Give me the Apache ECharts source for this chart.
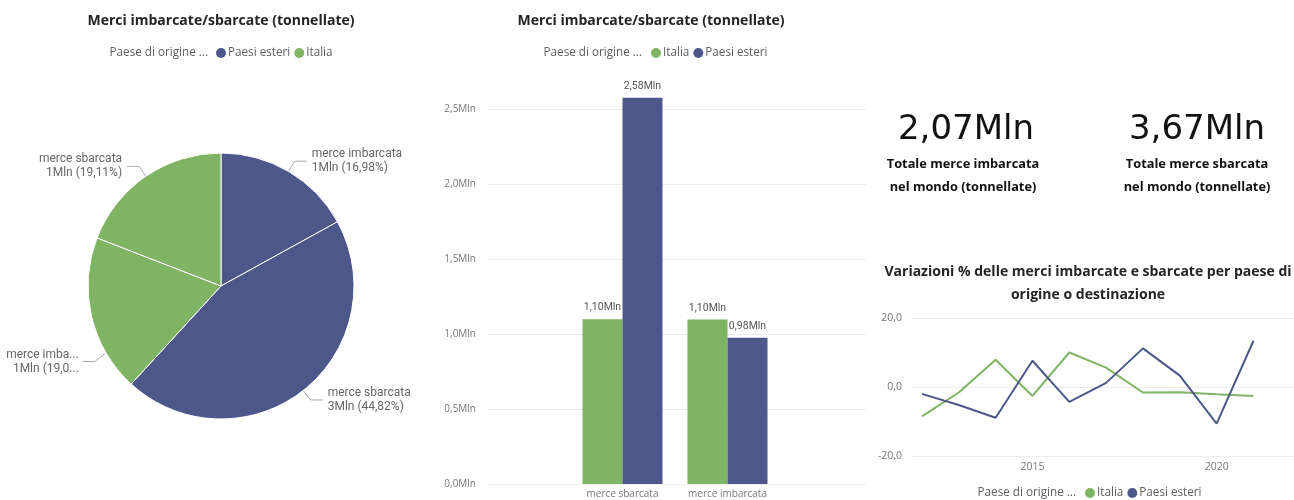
<!DOCTYPE html>
<html>
<head>
<meta charset="utf-8">
<script src="https://cdn.jsdelivr.net/npm/echarts@6/dist/echarts.min.js"></script>
<style>
html,body{margin:0;padding:0;background:#fff;}
#main{width:1294px;height:500px;}
</style>
</head>
<body>
<div id="main"></div>
<script>
// ---- data ----
const countries = ['Italia', 'Paesi esteri'];
const goodsCategories = ['merce sbarcata', 'merce imbarcata'];
// tonnes, [sbarcata, imbarcata]
const italiaGoods = [1098060, 1096910];
const esteriGoods = [2575360, 975670];
const years = [2012, 2013, 2014, 2015, 2016, 2017, 2018, 2019, 2020, 2021];
const italiaChange = [-8.5, -1.6, 7.9, -2.6, 10.0, 5.6, -1.6, -1.5, -2.1, -2.6];
const esteriChange = [-2.0, -5.2, -8.9, 7.6, -4.3, 1.2, 11.2, 3.3, -10.6, 13.4];
const barTicks = [0, 500000, 1000000, 1500000, 2000000, 2500000];
const lineYTicks = [-20, 0, 20];
const lineXTicks = [2015, 2020];

const GREEN = '#7fb464';
const BLUE = '#4e578a';
const TITLE_C = '#252423';
const GRAY = '#605e5c';
const AXIS_C = '#777777';
const GRID_C = '#ececec';

const PIE_CX = 221, PIE_CY = 286, PIE_R = 133;

const fmtMln2 = v => (v / 1e6).toFixed(2).replace('.', ',') + 'Mln';
const fmtMln1 = v => (v / 1e6).toFixed(1).replace('.', ',') + 'Mln';
const totImbarcata = italiaGoods[1] + esteriGoods[1];
const totSbarcata = italiaGoods[0] + esteriGoods[0];

const pieData = [
  { name: goodsCategories[1], value: esteriGoods[1], itemStyle: { color: BLUE } },
  { name: goodsCategories[0], value: esteriGoods[0], itemStyle: { color: BLUE } },
  { name: goodsCategories[1], value: italiaGoods[1], itemStyle: { color: GREEN },
    label: { width: 74, overflow: 'truncate', ellipsis: '...' } },
  { name: goodsCategories[0], value: italiaGoods[0], itemStyle: { color: GREEN } }
];

const chart = echarts.init(document.getElementById('main'), null, { renderer: 'canvas' });

const titleFont = { fontFamily: 'Open Sans', fontWeight: 'bold', fontSize: 14, fill: TITLE_C };
function txt(x, y, text, style) {
  return { type: 'text', x: x, y: y, style: Object.assign({ text: text, align: 'center', verticalAlign: 'middle' }, style) };
}
const LEG_FS = 11.7;
const legendLabelStyle = { fontFamily: 'Open Sans', fontSize: LEG_FS, fill: GRAY, align: 'right' };
const cardSub = { fontFamily: 'Open Sans', fontWeight: 'bold', fontSize: 12.8, fill: '#111' };
const cardBig = { fontFamily: 'DejaVu Sans', fontSize: 34, fill: '#111' };
function legendAt(left, top, names) {
  return { data: names, left: left, top: top, padding: 0, itemWidth: 10, itemHeight: 10, itemGap: 4, icon: 'circle',
    textStyle: { fontFamily: 'Open Sans', fontSize: LEG_FS, color: GRAY, padding: [0, 0, 0, -3] }, selectedMode: false };
}

const option = {
  animation: false,
  graphic: [
    txt(221, 21, 'Merci imbarcate/sbarcate (tonnellate)', titleFont),
    txt(651, 21, 'Merci imbarcate/sbarcate (tonnellate)', titleFont),
    txt(1088, 272, 'Variazioni % delle merci imbarcate e sbarcate per paese di', titleFont),
    txt(1088, 295, 'origine o destinazione', titleFont),
    txt(208, 53, 'Paese di origine ...', legendLabelStyle),
    txt(642, 53, 'Paese di origine ...', legendLabelStyle),
    txt(1076, 493, 'Paese di origine ...', legendLabelStyle),
    txt(966, 130, fmtMln2(totImbarcata), cardBig),
    txt(1197, 130, fmtMln2(totSbarcata), cardBig),
    txt(963, 164, 'Totale merce imbarcata', cardSub),
    txt(963, 187, 'nel mondo (tonnellate)', cardSub),
    txt(1197, 164, 'Totale merce sbarcata', cardSub),
    txt(1197, 187, 'nel mondo (tonnellate)', cardSub)
  ],
  legend: [
    legendAt(216, 47, ['Paesi esteri', 'Italia']),
    legendAt(651, 47, ['Italia', 'Paesi esteri']),
    legendAt(1085, 487, ['Italia', 'Paesi esteri'])
  ],
  grid: [
    { left: 487, right: 428, top: 109, bottom: 16 },
    { left: 570, width: 210, top: 109, bottom: 16 },
    { left: 912, right: 0, top: 318, bottom: 44 }
  ],
  xAxis: [
    { type: 'category', gridIndex: 0, data: [], show: false },
    { type: 'category', gridIndex: 1, data: goodsCategories,
      axisLine: { show: false }, axisTick: { show: false },
      axisLabel: { fontFamily: 'Open Sans', fontSize: 10, color: AXIS_C, margin: 5 } },
    { type: 'value', gridIndex: 2, min: 2011.73, max: 2022.1,
      axisLine: { show: false }, axisTick: { show: false }, splitLine: { show: false },
      axisLabel: { customValues: lineXTicks, fontFamily: 'Open Sans', fontSize: 10.5, color: AXIS_C, margin: 6,
        formatter: v => String(v) } }
  ],
  yAxis: [
    { type: 'value', gridIndex: 0, min: barTicks[0], max: barTicks[barTicks.length - 1], interval: barTicks[1] - barTicks[0],
      axisLine: { show: false }, axisTick: { show: false },
      splitLine: { lineStyle: { color: GRID_C } },
      axisLabel: { fontFamily: 'Open Sans', fontSize: 10, color: AXIS_C, margin: 11, formatter: fmtMln1 } },
    { type: 'value', gridIndex: 1, min: barTicks[0], max: barTicks[barTicks.length - 1], show: false },
    { type: 'value', gridIndex: 2, min: lineYTicks[0], max: lineYTicks[lineYTicks.length - 1], interval: lineYTicks[1] - lineYTicks[0],
      axisLine: { show: false }, axisTick: { show: false },
      splitLine: { lineStyle: { color: GRID_C } },
      axisLabel: { fontFamily: 'Open Sans', fontSize: 10.5, color: AXIS_C, margin: 10,
        formatter: v => v.toFixed(1).replace('.', ',') } }
  ],
  series: [
    {
      type: 'pie', name: 'Merci', center: [PIE_CX, PIE_CY], radius: PIE_R, startAngle: 90, clockwise: true,
      data: pieData,
      itemStyle: { borderColor: '#fff', borderWidth: 1 },
      emphasis: { disabled: true },
      label: {
        fontFamily: 'Roboto', fontSize: 12, color: '#666', lineHeight: 14,
        formatter: p => p.name + '\n' + Math.round(p.value / 1e6) + 'Mln (' + p.percent.toFixed(2).replace('.', ',') + '%)'
      },
      labelLine: { length: 12, length2: 12, lineStyle: { color: '#aaa', width: 1 } },
      labelLayout: function (params) {
        if (params.dataIndex !== 2) return {};
        // Power BI pushes this label lower along the left edge
        const a = 30 * Math.PI / 180;
        const p0 = [PIE_CX - PIE_R * Math.cos(a) - 1, PIE_CY + PIE_R * Math.sin(a) + 1];
        const p1 = [p0[0] - 10, p0[1] + 8];
        const p2 = [p1[0] - 12, p1[1]];
        return { x: p2[0] - 4, y: p2[1], align: 'right', verticalAlign: 'middle', labelLinePoints: [p0, p1, p2] };
      }
    },
    {
      type: 'bar', name: countries[0], xAxisIndex: 1, yAxisIndex: 1, data: italiaGoods,
      barWidth: 40, barGap: '0%', clip: false, itemStyle: { color: GREEN },
      label: { show: true, position: 'top', distance: 6, fontFamily: 'Roboto', fontSize: 10.5, color: '#555', formatter: p => fmtMln2(p.value) }
    },
    {
      type: 'bar', name: countries[1], xAxisIndex: 1, yAxisIndex: 1, data: esteriGoods,
      barWidth: 40, barGap: '0%', clip: false, itemStyle: { color: BLUE },
      label: { show: true, position: 'top', distance: 6, fontFamily: 'Roboto', fontSize: 10.5, color: '#555', formatter: p => fmtMln2(p.value) }
    },
    {
      type: 'line', name: countries[0], xAxisIndex: 2, yAxisIndex: 2,
      data: years.map((y, i) => [y, italiaChange[i]]),
      showSymbol: false, symbol: 'none', lineStyle: { color: GREEN, width: 2 }, itemStyle: { color: GREEN }
    },
    {
      type: 'line', name: countries[1], xAxisIndex: 2, yAxisIndex: 2,
      data: years.map((y, i) => [y, esteriChange[i]]),
      showSymbol: false, symbol: 'none', lineStyle: { color: BLUE, width: 2 }, itemStyle: { color: BLUE }
    }
  ]
};
chart.setOption(option);
</script>
</body>
</html>
